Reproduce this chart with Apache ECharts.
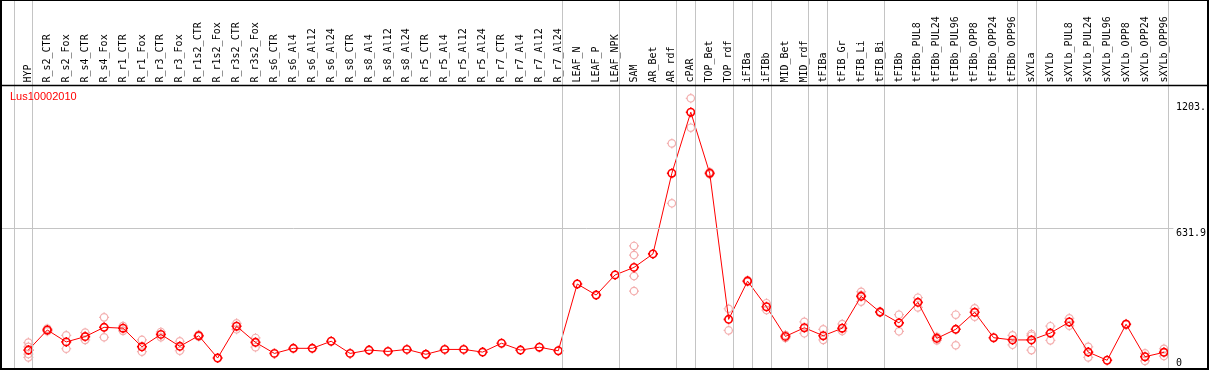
<!DOCTYPE html>
<html>
<head>
<meta charset="utf-8">
<script src="https://cdn.jsdelivr.net/npm/echarts@6/dist/echarts.min.js"></script>
<style>
html,body{margin:0;padding:0;background:#fff;}
#chart{width:1209px;height:370px;}
</style>
</head>
<body>
<div id="chart"></div>
<script>
const seriesName = 'Lus10002010';
const categories = ['HYP','R_s2_CTR','R_s2_Fox','R_s4_CTR','R_s4_Fox','R_r1_CTR','R_r1_Fox','R_r3_CTR','R_r3_Fox','R_r1s2_CTR','R_r1s2_Fox','R_r3s2_CTR','R_r3s2_Fox','R_s6_CTR','R_s6_Al4','R_s6_Al12','R_s6_Al24','R_s8_CTR','R_s8_Al4','R_s8_Al12','R_s8_Al24','R_r5_CTR','R_r5_Al4','R_r5_Al12','R_r5_Al24','R_r7_CTR','R_r7_Al4','R_r7_Al12','R_r7_Al24','LEAF_N','LEAF_P','LEAF_NPK','SAM','AR_Bet','AR_rdf','cPAR','TOP_Bet','TOP_rdf','iFIBa','iFIBb','MID_Bet','MID_rdf','tFIBa','tFIB_Gr','tFIB_Li','tFIB_Bi','tFIBb','tFIBb_PUL8','tFIBb_PUL24','tFIBb_PUL96','tFIBb_OPP8','tFIBb_OPP24','tFIBb_OPP96','sXYLa','sXYLb','sXYLb_PUL8','sXYLb_PUL24','sXYLb_PUL96','sXYLb_OPP8','sXYLb_OPP24','sXYLb_OPP96'];
const meanValues = [81,172,118,142,184,180,96,152,98,146,45,189,116,66,89,89,121,66,81,75,84,62,84,84,72,112,81,94,78,380,330,421,455,516,881,1157,881,220,393,277,143,182,146,180,324,253,204,297,134,175,252,137,127,127,158,208,72,35,198,51,71];
const replicateValues = [
  [115,96,63,48],[178,166],[148,87],[160,127],[229,139],[190,168],[127,74],[163,139],[121,78],[150,142],
  [],[202,175],[136,94],[],[],[],[],[],[],[],
  [],[],[],[],[],[],[],[],[],[],
  [],[],[552,511,416,348],[],[1016,745],[1220,1087],[886,876],[268,170],[397,390],[293,262],
  [149,136],[209,157],[175,127],[199,167],[345,330,300],[255,251],[241,166],[318,274],[141,125],[241,103],
  [270,232],[],[148,105],[154,146,81],[189,125],[225,191],[96,48],[],[200,196],[66,32],
  [87,54]
];
const yTickValues = [0, 631.9, 1203];
const yTickLabels = ['0', '631.9', '1203.'];
const groupEndIndex = [-1, 0, 28, 31, 34, 35, 37, 38, 39, 41, 42, 45, 52, 53, 60];

const markerPath = 'path://M5,0L5,1.3M5,8.7L5,10M0,5L1.3,5M8.7,5L10,5M8.7,5A3.7,3.7,0,1,1,1.3,5A3.7,3.7,0,1,1,8.7,5Z';
const mono = 'DejaVu Sans Mono';

const repData = [];
replicateValues.forEach((reps, i) => reps.forEach(v => repData.push([i, v])));
const meanData = meanValues.map((v, i) => [i, v]);

const yFmt = v => { const k = yTickValues.indexOf(v); return k >= 0 ? yTickLabels[k] : String(v); };

const chart = echarts.init(document.getElementById('chart'), null, {renderer: 'canvas'});
chart.setOption({
  animation: false,
  backgroundColor: '#fff',
  title: {
    text: seriesName, left: 10, top: 91, padding: 0,
    textStyle: {color: '#ff0000', fontSize: 11, fontWeight: 'normal', fontFamily: 'Liberation Sans'}
  },
  grid: {left: -2.5, top: 1, width: 1178, height: 367},
  xAxis: [
    {
      type: 'category', data: [''].concat(categories), position: 'top', offset: -84.5,
      boundaryGap: true,
      axisLine: {show: false}, axisTick: {show: false}, splitLine: {show: false},
      axisLabel: {rotate: 90, interval: 0, margin: 3, fontFamily: mono, fontSize: 10, color: '#000'}
    },
    {type: 'value', min: -1.5, max: 60.5, show: false, splitLine: {show: false}}
  ],
  yAxis: [
    {
      type: 'value', position: 'right', min: 0, max: 1660,
      axisLine: {show: false}, axisTick: {show: false}, splitLine: {show: false},
      axisLabel: {customValues: [yTickValues[1], yTickValues[2]], formatter: yFmt, verticalAlign: 'top',
        margin: 2.5, fontFamily: mono, fontSize: 10, color: '#000'}
    },
    {
      type: 'value', position: 'right', min: 0, max: 1660,
      axisLine: {show: false}, axisTick: {show: false}, splitLine: {show: false},
      axisLabel: {customValues: [yTickValues[0]], formatter: yFmt, verticalAlign: 'bottom',
        margin: 2.5, fontFamily: mono, fontSize: 10, color: '#000'}
    }
  ],
  graphic: [
    {type: 'rect', silent: true, z: 100, shape: {x: 1, y: 0, width: 1207, height: 369},
      style: {fill: null, stroke: '#000', lineWidth: 2}},
    {type: 'line', silent: true, z: 100, shape: {x1: 0, y1: 85.5, x2: 1209, y2: 85.5},
      style: {stroke: '#000', lineWidth: 1.5}}
  ],
  series: [
    {
      name: seriesName + ' replicates', type: 'scatter', xAxisIndex: 1, yAxisIndex: 0,
      data: repData, symbol: markerPath, symbolSize: 10, silent: true, z: 2,
      itemStyle: {color: 'transparent', borderColor: '#f09a9a', borderWidth: 1.2},
      markLine: {
        silent: true, symbol: 'none', label: {show: false},
        lineStyle: {color: '#c4c4c4', width: 1, type: 'solid'},
        data: groupEndIndex.map(i => ({xAxis: i + 0.226})).concat([{yAxis: yTickValues[1]}])
      }
    },
    {
      name: seriesName, type: 'line', xAxisIndex: 1, yAxisIndex: 0,
      data: meanData, symbol: markerPath, symbolSize: 10, showAllSymbol: true, silent: true, z: 3,
      lineStyle: {color: '#ff0000', width: 1},
      itemStyle: {color: 'transparent', borderColor: '#ff0000', borderWidth: 1.6}
    }
  ]
});
</script>
</body>
</html>
